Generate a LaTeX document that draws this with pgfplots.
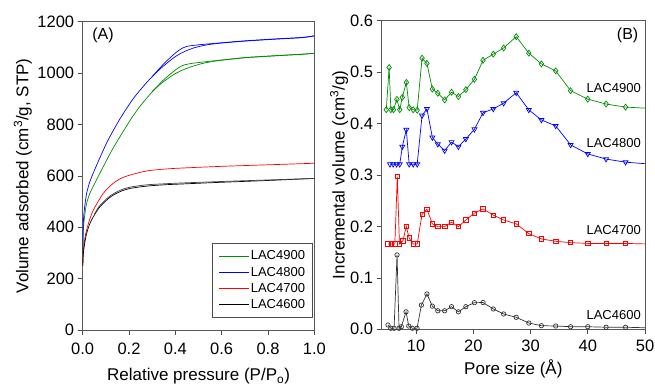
\documentclass[border=0pt]{standalone}
\usepackage{fontspec}
\setmainfont{Liberation Sans}
\usepackage{pgfplots}
\pgfplotsset{compat=1.18}
\definecolor{cgreen}{RGB}{0,140,0}
\definecolor{cblue}{RGB}{0,0,255}
\definecolor{cred}{RGB}{255,0,0}
\pgfplotsset{
  myaxis/.style={
    scale only axis,
    axis line style={black!65, line width=0.6pt},
    tick align=outside, tick pos=left,
    major tick length=5pt,
    every tick/.style={black!70, line width=0.6pt},
    ticklabel style={font=\fontsize{16.5}{18}\selectfont},
    label style={font=\fontsize{17}{20}\selectfont},
    /pgf/number format/assume math mode=true,
  },
}
\begin{document}
\begin{tikzpicture}
\useasboundingbox (0,0) rectangle (655pt,385pt);
% ---------------- Panel A ----------------
\begin{axis}[myaxis,
  at={(82.7pt,55pt)}, anchor=south west,
  width=231.6pt, height=308.3pt,
  xmin=0, xmax=1, ymin=0, ymax=1200,
  xtick={0,0.2,0.4,0.6,0.8,1.0}, ytick={0,200,400,600,800,1000,1200},
  xticklabel style={yshift=-4pt, /pgf/number format/.cd, fixed, fixed zerofill, precision=1},
  yticklabel style={/pgf/number format/1000 sep={}},
  xlabel={Relative pressure (P/P\textsubscript{o})},
  ylabel={Volume adsorbed (cm\textsuperscript{3}/g, STP)},
  xlabel style={at={(axis description cs:0.5,-0.164)}, anchor=base},
  ylabel style={at={(axis description cs:-0.258,0.5)}, anchor=center},
  legend style={at={(rel axis cs:0.994,0.039)}, anchor=south east,
    draw=black!70, line width=0.6pt, inner xsep=6pt, inner ysep=6pt,
    font=\fontsize{13}{15}\selectfont,
    nodes={inner sep=1.6pt}, row sep=2.5pt},
  legend cell align=left,
  legend image code/.code={\draw[#1, line width=0.8pt] (0pt,0pt) -- (30pt,0pt);},
]
% LAC4900 green
\addplot[cgreen, line width=0.7pt, smooth] coordinates {
(0.0005,290) (0.002,370) (0.005,415) (0.01,455) (0.017,493) (0.03,530) (0.046,560)
(0.07,603) (0.089,636) (0.125,698) (0.154,742) (0.204,815) (0.24,862) (0.276,902)
(0.31,936) (0.348,966) (0.40,998) (0.44,1015) (0.48,1028) (0.52,1038) (0.56,1045)
(0.6,1050) (0.708,1060) (0.852,1068) (0.95,1073) (1.0,1077)};
\addlegendentry{LAC4900\hspace{14pt}}
\addplot[cgreen, line width=0.7pt, smooth, forget plot] coordinates {
(0.30,928) (0.35,974) (0.40,1012) (0.43,1029) (0.46,1036) (0.5,1041) (0.6,1051)
(0.708,1061) (0.852,1069) (0.95,1074) (1.0,1077)};
% LAC4800 blue
\addplot[cblue, line width=0.7pt, smooth] coordinates {
(0.0005,300) (0.002,400) (0.005,450) (0.01,490) (0.017,532) (0.03,575) (0.046,612)
(0.075,672) (0.089,700) (0.11,740) (0.161,822) (0.218,900) (0.276,963) (0.31,995)
(0.348,1027) (0.40,1064) (0.44,1084) (0.48,1098) (0.52,1107) (0.56,1113) (0.6,1117)
(0.708,1125) (0.852,1133) (0.95,1138) (1.0,1145)};
\addlegendentry{LAC4800\hspace{14pt}}
\addplot[cblue, line width=0.7pt, smooth, forget plot] coordinates {
(0.30,986) (0.35,1036) (0.40,1078) (0.43,1097) (0.45,1104) (0.5,1110) (0.6,1118)
(0.708,1126) (0.852,1134) (0.95,1139) (1.0,1145)};
% LAC4700 red
\addplot[cred, line width=0.7pt, smooth] coordinates {
(0.0005,250) (0.003,311) (0.01,360) (0.017,389) (0.03,430) (0.046,467) (0.07,505)
(0.089,532) (0.11,553) (0.132,571) (0.165,590) (0.204,603) (0.276,619) (0.35,626)
(0.42,630) (0.6,637) (0.8,643) (1.0,649)};
\addlegendentry{LAC4700\hspace{14pt}}
% LAC4600 black
\addplot[black, line width=0.7pt, smooth] coordinates {
(0.0005,250) (0.003,300) (0.01,345) (0.017,376) (0.03,412) (0.046,441) (0.07,475)
(0.089,493) (0.11,511) (0.132,525) (0.165,540) (0.204,551) (0.276,560) (0.35,565)
(0.42,568) (0.6,575) (0.8,582) (1.0,590)};
\addlegendentry{LAC4600\hspace{14pt}}
\addplot[black!75, line width=0.7pt, smooth, forget plot] coordinates {
(0.05,450) (0.07,480) (0.089,498) (0.11,516) (0.132,530) (0.165,545) (0.204,556)
(0.276,565) (0.35,569) (0.42,572) (0.6,578) (0.8,584) (1.0,590)};
\node[font=\fontsize{16}{18}\selectfont] at (rel axis cs:0.088,0.957) {(A)};
\end{axis}
% ---------------- Panel B ----------------
\begin{axis}[myaxis,
  at={(381.7pt,55.7pt)}, anchor=south west,
  width=263.3pt, height=308.6pt,
  xmin=4, xmax=50, ymin=0, ymax=0.6,
  xtick={10,20,30,40,50}, ytick={0,0.1,0.2,0.3,0.4,0.5,0.6},
  xticklabel style={yshift=-2pt},
  yticklabel style={/pgf/number format/.cd, fixed, fixed zerofill, precision=1},
  xlabel={Pore size (Å)},
  ylabel={Incremental volume (cm\textsuperscript{3}/g)},
  xlabel style={at={(axis description cs:0.5,-0.148)}, anchor=base},
  ylabel style={at={(axis description cs:-0.162,0.5)}, anchor=center},
]
% LAC4900
\addplot[cgreen, line width=0.7pt, mark=diamond, mark size=3pt,
  mark options={fill=white, solid}, mark indices={1,...,31}] coordinates {
(4.8,0.427) (5.3,0.509) (5.6,0.427) (6.05,0.427) (6.65,0.447) (7.15,0.427) (7.6,0.451)
(8.3,0.480) (8.8,0.431) (9.5,0.427) (10.2,0.426) (11.05,0.527) (11.9,0.517) (12.85,0.467)
(13.8,0.459) (15.0,0.446) (16.2,0.461) (17.4,0.4525) (18.7,0.466) (20.2,0.486)
(21.7,0.523) (23.5,0.535) (25.3,0.547) (27.5,0.569) (29.7,0.537) (31.9,0.516)
(34.4,0.5025) (37.0,0.464) (40.0,0.4475) (43.2,0.438) (46.6,0.432) (50,0.430)};
% LAC4800
\addplot[cblue, line width=0.7pt, mark=triangle, mark size=2.9pt,
  mark options={fill=white, solid, rotate=180}, mark indices={1,...,29}] coordinates {
(5.45,0.321) (6.0,0.321) (6.6,0.321) (7.15,0.321) (7.6,0.355) (8.3,0.388) (8.8,0.321)
(9.5,0.321) (10.2,0.321) (11.05,0.4156) (11.9,0.4286) (12.85,0.373) (13.8,0.360)
(15.0,0.3475) (16.2,0.364) (17.4,0.355) (18.7,0.370) (20.2,0.389) (21.7,0.421)
(23.5,0.4286) (25.3,0.4397) (27.5,0.460) (29.7,0.4266) (31.9,0.407) (34.4,0.3955)
(37.0,0.3586) (40.0,0.341) (43.2,0.331) (46.6,0.3249) (50,0.322)};
% LAC4700
\addplot[cred, line width=0.7pt, mark=square, mark size=2.2pt,
  mark options={fill=white, solid}, mark indices={1,...,30}] coordinates {
(5.1,0.166) (5.7,0.166) (6.3,0.166) (6.73,0.297) (7.1,0.166) (7.7,0.172) (8.3,0.200)
(8.78,0.178) (9.5,0.166) (10.2,0.166) (11.05,0.2237) (11.9,0.2335) (12.85,0.205)
(13.8,0.1996) (15.0,0.1996) (16.2,0.208) (17.4,0.1996) (18.7,0.2126) (20.2,0.2257)
(21.7,0.234) (23.5,0.222) (25.3,0.2126) (27.5,0.205) (29.7,0.186) (31.9,0.1757)
(34.4,0.171) (37.0,0.1685) (40.0,0.167) (43.2,0.167) (46.6,0.167) (50,0.166)};
% LAC4600
\addplot[black!80, line width=0.7pt, mark=o, mark size=2.2pt,
  mark options={fill=white, solid}, mark indices={1,...,30}] coordinates {
(5.1,0.0084) (5.58,0.002) (6.16,0.002) (6.68,0.1446) (7.03,0.002) (7.43,0.005)
(8.25,0.034) (8.72,0.0064) (9.36,0.002) (10.17,0.002) (10.93,0.047) (11.9,0.0687)
(12.85,0.045) (13.8,0.036) (15.0,0.036) (16.2,0.044) (17.4,0.034) (18.7,0.044)
(20.2,0.0518) (21.7,0.052) (23.5,0.0395) (25.3,0.0298) (27.5,0.0233) (29.7,0.0122)
(31.9,0.007) (34.4,0.0064) (37.0,0.005) (40.0,0.005) (43.2,0.004) (46.6,0.004) (50,0.003)};
\node[font=\fontsize{16}{18}\selectfont] at (rel axis cs:0.934,0.951) {(B)};
\begin{scope}[every node/.style={font=\fontsize{13}{15}\selectfont, inner sep=0pt, anchor=east}]
\node at (axis cs:49.3,0.469) {LAC4900};
\node at (axis cs:49.3,0.3625) {LAC4800};
\node at (axis cs:49.3,0.193) {LAC4700};
\node at (axis cs:49.3,0.028) {LAC4600};
\end{scope}
\end{axis}
\end{tikzpicture}
\end{document}
